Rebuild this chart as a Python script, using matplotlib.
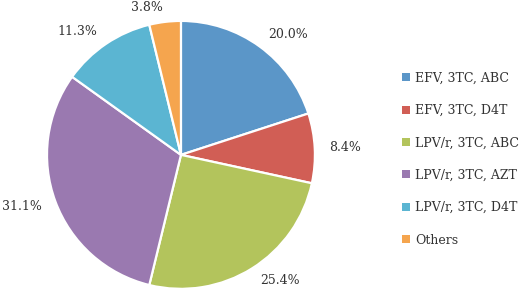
import matplotlib
matplotlib.use("Agg")
import matplotlib.pyplot as plt
from matplotlib.patches import Patch

LABELS = [
    "EFV, 3TC, ABC",
    "EFV, 3TC, D4T",
    "LPV/r, 3TC, ABC",
    "LPV/r, 3TC, AZT",
    "LPV/r, 3TC, D4T",
    "Others",
]
SHARES = [20.0, 8.4, 25.4, 31.1, 11.3, 3.8]
COLORS = ["#5B96C8", "#D15E55", "#B3C45C", "#9A79B0", "#5BB5D2", "#F5A54E"]

plt.rcParams["font.family"] = ["DejaVu Serif"]

fig = plt.figure(figsize=(5.2, 2.95), dpi=100)
# pie spans 1/2.5 of the axes box; put centre near (181, 155) px
ax = fig.add_axes([0.026, -0.093, 0.644, 1.136])

wedges, texts = ax.pie(
    SHARES,
    colors=COLORS,
    startangle=90,
    counterclock=False,
    labels=[f"{v:.1f}%" for v in SHARES],
    labeldistance=1.11,
    wedgeprops=dict(edgecolor="white", linewidth=1.6),
    textprops=dict(fontsize=9, color="#333333"),
)
ax.set_aspect("equal")

handles = [Patch(facecolor=c, edgecolor="none") for c in COLORS]
fig.legend(
    handles, LABELS,
    loc="upper left",
    bbox_to_anchor=(0.752, 0.795),
    frameon=False,
    fontsize=9,
    handlelength=0.6,
    handleheight=0.6,
    handletextpad=0.45,
    labelspacing=1.55,
    labelcolor="#333333",
)

fig.savefig("out.png", dpi=100)
